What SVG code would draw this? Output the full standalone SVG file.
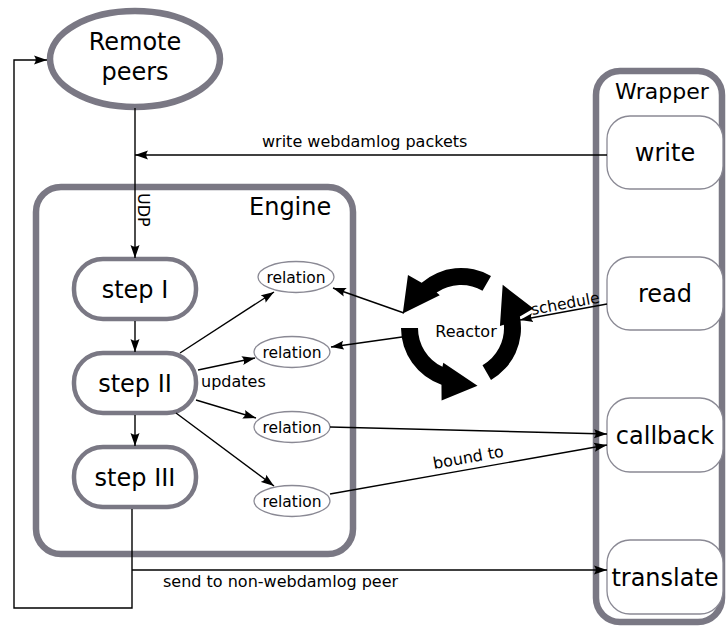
<svg xmlns="http://www.w3.org/2000/svg" width="726" height="628" viewBox="0 0 726 628">
<style>
text{font-family:"DejaVu Sans","Liberation Sans",sans-serif;fill:#000}
.big{font-size:24px}
.mid{font-size:16px}
.rel{font-size:15.5px}
.thick{fill:#fff;stroke:#7a7884;stroke-width:6.5}
.step{fill:#fff;stroke:#7a7884;stroke-width:4.5}
.thin{fill:#fff;stroke:#8a8994;stroke-width:1.3}
.con{fill:none;stroke:#000;stroke-width:1.4}
.arr{marker-end:url(#ah)}
</style>
<defs>
<marker id="ah" markerUnits="userSpaceOnUse" markerWidth="14" markerHeight="10" refX="13" refY="5" orient="auto">
<path d="M0,0.5 L13,5 L0,9.5 Q3.5,5 0,0.5 Z" fill="#000"/>
</marker>
<path id="rarrow" d="M491,276.04 A60 60 0 0 0 421.64,282.72 L407.97,274.97 L402.78,313.48 L439.76,295.29 L436.65,292.56 A43 43 0 0 1 482.5,290.76 Z" fill="#000"/>
</defs>
<rect width="726" height="628" fill="#fff"/>

<g id="engine">
<rect class="thick" x="36" y="187" width="317" height="367" rx="25"/>
<text class="big" x="249" y="215">Engine</text>
</g>

<g id="wrapper">
<rect class="thick" x="596" y="71" width="126" height="551" rx="24"/>
<text x="615" y="99" style="font-size:22px">Wrapper</text>
</g>

<g id="remote-peers">
<ellipse class="thick" cx="135" cy="59" rx="85" ry="48"/>
<text class="big" x="135" y="50" text-anchor="middle">Remote</text>
<text class="big" x="135" y="80" text-anchor="middle">peers</text>
</g>

<g id="step1">
<rect class="step" x="74" y="259" width="122" height="60" rx="29"/>
<text class="big" x="135" y="297.5" text-anchor="middle">step I</text>
</g>
<g id="step2">
<rect class="step" x="74" y="353" width="122" height="60" rx="29"/>
<text class="big" x="135" y="391.5" text-anchor="middle">step II</text>
</g>
<g id="step3">
<rect class="step" x="74" y="447" width="122" height="60" rx="29"/>
<text class="big" x="135" y="485.5" text-anchor="middle">step III</text>
</g>

<g id="relation1">
<ellipse class="thin" cx="296" cy="277" rx="38" ry="15.5"/>
<text class="rel" x="296" y="282.5" text-anchor="middle">relation</text>
</g>
<g id="relation2">
<ellipse class="thin" cx="292" cy="352" rx="38" ry="15.5"/>
<text class="rel" x="292" y="357.5" text-anchor="middle">relation</text>
</g>
<g id="relation3">
<ellipse class="thin" cx="292" cy="427" rx="38" ry="15.5"/>
<text class="rel" x="292" y="432.5" text-anchor="middle">relation</text>
</g>
<g id="relation4">
<ellipse class="thin" cx="292" cy="501" rx="38" ry="15.5"/>
<text class="rel" x="292" y="506.5" text-anchor="middle">relation</text>
</g>

<g id="reactor">
<use href="#rarrow"/>
<use href="#rarrow" transform="rotate(-120 461 328)"/>
<use href="#rarrow" transform="rotate(120 461 328)"/>
<text class="mid" x="466" y="337" text-anchor="middle">Reactor</text>
</g>

<g id="write">
<rect class="thin" x="607" y="116" width="116" height="73" rx="23"/>
<text class="big" x="665" y="161" text-anchor="middle">write</text>
</g>
<g id="read">
<rect class="thin" x="607" y="257" width="116" height="73" rx="23"/>
<text class="big" x="665" y="302" text-anchor="middle">read</text>
</g>
<g id="callback">
<rect class="thin" x="607" y="398" width="116" height="74" rx="23"/>
<text class="big" x="665" y="443.5" text-anchor="middle">callback</text>
</g>
<g id="translate">
<rect class="thin" x="607" y="540" width="116" height="74" rx="23"/>
<text class="big" x="665" y="585.5" text-anchor="middle">translate</text>
</g>

<g id="connectors">
<line class="con arr" x1="135" y1="108" x2="135" y2="258"/>
<line class="con arr" x1="607" y1="155" x2="135" y2="155"/>
<line class="con arr" x1="135" y1="321" x2="135" y2="352"/>
<line class="con arr" x1="135" y1="415" x2="135" y2="446"/>
<line class="con arr" x1="180" y1="353" x2="274" y2="292"/>
<line class="con arr" x1="198" y1="370" x2="255" y2="358"/>
<line class="con arr" x1="196" y1="400" x2="256" y2="418"/>
<line class="con arr" x1="176" y1="413" x2="274" y2="486"/>
<line class="con arr" x1="404" y1="313" x2="333" y2="288"/>
<line class="con arr" x1="402" y1="337" x2="331" y2="347"/>
<line class="con arr" x1="607" y1="304" x2="520" y2="320"/>
<line class="con arr" x1="330" y1="427" x2="607" y2="434"/>
<line class="con arr" x1="330" y1="494" x2="607" y2="445"/>
<path class="con arr" d="M132,509 V608 H14 V60 H47"/>
<path class="con arr" d="M132,570 H607"/>
<text class="mid" x="262" y="147">write webdamlog packets</text>
<text class="mid" transform="translate(138,193) rotate(90)">UDP</text>
<text class="mid" x="201" y="387">updates</text>
<text class="rel" transform="translate(532,315) rotate(-10.4)">schedule</text>
<text class="mid" transform="translate(434,469) rotate(-10)">bound to</text>
<text class="mid" x="163" y="587">send to non-webdamlog peer</text>
</g>
</svg>
